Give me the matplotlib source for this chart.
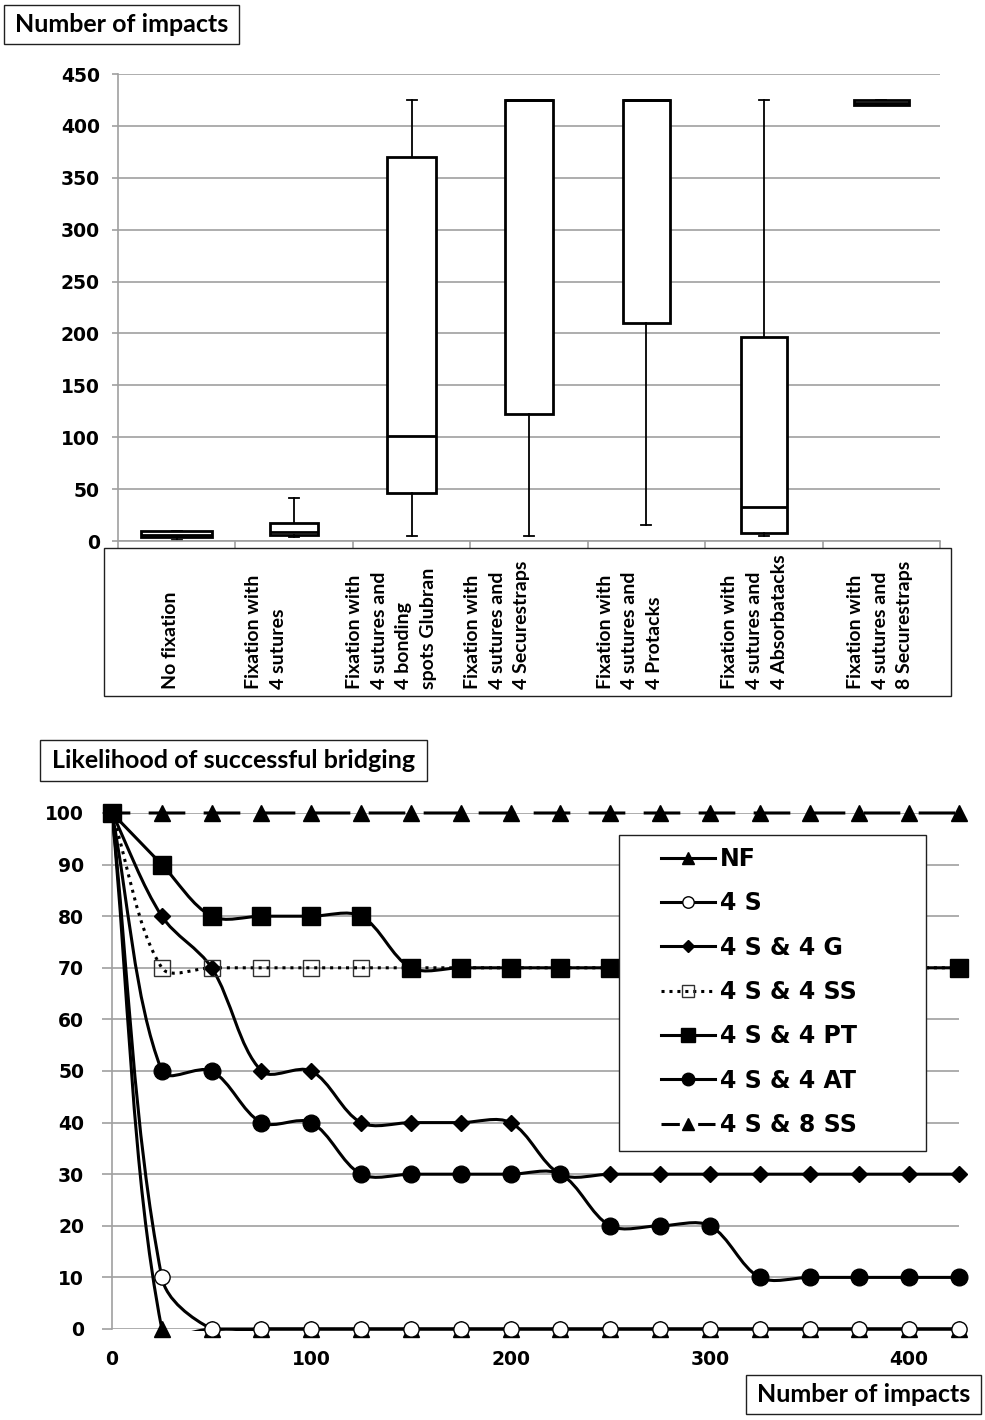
import matplotlib.pyplot as plt
import matplotlib.transforms as mtransforms
import numpy as np
from matplotlib.lines import Line2D
from matplotlib.patches import PathPatch, Rectangle
from matplotlib.path import Path

# ---------------- top chart: number of impacts per fixation ----------------
groups = [
    "No fixation",
    "Fixation with\n4 sutures",
    "Fixation with\n4 sutures and\n4 bonding\nspots Glubran",
    "Fixation with\n4 sutures and\n4 Securestraps",
    "Fixation with\n4 sutures and\n4 Protacks",
    "Fixation with\n4 sutures and\n4 Absorbatacks",
    "Fixation with\n4 sutures and\n8 Securestraps",
]
box_min = [1, 4, 5, 5, 15, 5, 420]
box_q1 = [4, 6, 46, 122, 210, 8, 420]
box_med = [6, 9, 101, 425, 425, 33, 422]
box_q3 = [10, 17, 370, 425, 425, 197, 425]
box_max = [10, 41, 425, 425, 425, 425, 425]
box_ticks = [0, 50, 100, 150, 200, 250, 300, 350, 400, 450]

# ---------------- bottom chart: likelihood of successful bridging ----------------
impacts = [0, 25, 50, 75, 100, 125, 150, 175, 200, 225, 250, 275, 300, 325, 350, 375, 400, 425]
nf = [100, 0, 0, 0, 0, 0, 0, 0, 0, 0, 0, 0, 0, 0, 0, 0, 0, 0]
s4 = [100, 10, 0, 0, 0, 0, 0, 0, 0, 0, 0, 0, 0, 0, 0, 0, 0, 0]
s4_g4 = [100, 80, 70, 50, 50, 40, 40, 40, 40, 30, 30, 30, 30, 30, 30, 30, 30, 30]
s4_ss4 = [100, 70, 70, 70, 70, 70, 70, 70, 70, 70, 70, 70, 70, 70, 70, 70, 70, 70]
s4_pt4 = [100, 90, 80, 80, 80, 80, 70, 70, 70, 70, 70, 70, 70, 70, 70, 70, 70, 70]
s4_at4 = [100, 50, 50, 40, 40, 30, 30, 30, 30, 30, 20, 20, 20, 10, 10, 10, 10, 10]
s4_ss8 = [100] * 18
line_yticks = [0, 10, 20, 30, 40, 50, 60, 70, 80, 90, 100]
line_xticks = [0, 100, 200, 300, 400]

W, H = 985, 1420
GRID = "#a0a0a0"
TICK_FONT = dict(family="DejaVu Sans", weight="bold", size=13.5)
BOX_FONT = dict(family="Lato", weight="bold")

fig = plt.figure(figsize=(W / 100, H / 100), dpi=100)


def px_rect(x0, y0, x1, y1):
    # rectangle given in pixel coords of the figure (origin top-left)
    return [x0 / W, 1 - y1 / H, (x1 - x0) / W, (y1 - y0) / H]


def frame_box(x0, y0, x1, y1, lw=1.0, zorder=1):
    r = px_rect(x0, y0, x1, y1)
    fig.add_artist(Rectangle((r[0], r[1]), r[2], r[3], transform=fig.transFigure,
                             facecolor="none", edgecolor="#202020", linewidth=lw,
                             zorder=zorder))


def title_box(x0, y0, x1, y1, text, size):
    frame_box(x0, y0, x1, y1)
    fig.text((x0 + x1) / 2 / W, 1 - (y0 + y1) / 2 / H, text, ha="center", va="center",
             fontsize=size, **BOX_FONT)


# ============ top axes ============
ax1 = fig.add_axes(px_rect(118, 74, 940, 541))
n = len(groups)
stats = []
for i in range(n):
    stats.append(dict(med=box_med[i], q1=box_q1[i], q3=box_q3[i],
                      whislo=box_min[i], whishi=box_max[i], fliers=[]))
widths = [0.6, 0.41, 0.42, 0.41, 0.4, 0.39, 0.47]
ax1.bxp(stats, positions=range(n), widths=widths, capwidths=0.085,
        patch_artist=True, showfliers=False, manage_ticks=False,
        boxprops=dict(facecolor="white", edgecolor="black", linewidth=2),
        medianprops=dict(color="black", linewidth=2),
        whiskerprops=dict(color="black", linewidth=1.3),
        capprops=dict(color="black", linewidth=1.3))
ax1.set_xlim(-0.5, n - 0.5)
ax1.set_ylim(0, 450)
ax1.set_yticks(box_ticks)
ax1.set_yticklabels([str(t) for t in box_ticks], **TICK_FONT)
ax1.set_xticks(np.arange(n + 1) - 0.5)
ax1.set_xticklabels([])
ax1.tick_params(axis="y", length=4, color=GRID, width=1.2, pad=9)
ax1.tick_params(axis="x", length=5, color=GRID, width=1.2, direction="out")
ax1.grid(axis="y", color=GRID, linewidth=1.2)
ax1.set_axisbelow(True)
for side in ["top", "right"]:
    ax1.spines[side].set_visible(False)
for side in ["left", "bottom"]:
    ax1.spines[side].set_color(GRID)
    ax1.spines[side].set_linewidth(1.2)

# category labels in their own frame below the axis
frame_box(104, 548, 951, 696)
label_shift = [-0.05, -0.24, -0.17, -0.27, -0.14, -0.08, -0.01]
trans = mtransforms.blended_transform_factory(ax1.transData, fig.transFigure)
for i, g in enumerate(groups):
    ax1.text(i + label_shift[i], 1 - 689 / H, g, transform=trans, rotation=90,
             ha="center", va="bottom", multialignment="left", linespacing=1.55,
             fontsize=14, **BOX_FONT)

title_box(4, 5, 239, 44, "Number of impacts", 18)

# ============ bottom axes ============
ax2 = fig.add_axes(px_rect(112, 813, 959, 1329))
ax2.set_xlim(0, 425)
ax2.set_ylim(0, 100)
ax2.set_yticks(line_yticks)
ax2.set_yticklabels([str(t) for t in line_yticks], **TICK_FONT)
ax2.set_xticks(line_xticks)
ax2.set_xticklabels([str(t) for t in line_xticks], **TICK_FONT)
ax2.tick_params(axis="y", length=7, color=GRID, width=1.2, pad=13)
ax2.tick_params(axis="x", length=0, pad=15)
ax2.grid(axis="y", color=GRID, linewidth=1.2)
ax2.set_axisbelow(True)
for side in ["top", "right", "bottom"]:
    ax2.spines[side].set_visible(False)
ax2.spines["left"].set_color(GRID)
ax2.spines["left"].set_linewidth(1.2)


def smooth_path(ax, xs, ys):
    # Excel-like smoothed line: bezier segments with tangents weighted by segment length
    pts = ax.transData.transform(np.column_stack([xs, ys]))
    m = len(pts)
    d = np.hypot(*np.diff(pts, axis=0).T)
    out_cp, in_cp = [], []
    for i in range(m):
        prev = pts[max(i - 1, 0)]
        nxt = pts[min(i + 1, m - 1)]
        t = nxt - prev
        dp = d[i - 1] if i > 0 else 0.0
        dn = d[i] if i < m - 1 else 0.0
        tot = dp + dn if dp + dn > 0 else 1.0
        out_cp.append(pts[i] + t * dn / tot / 3)
        in_cp.append(pts[i] - t * dp / tot / 3)
    verts = [pts[0]]
    codes = [Path.MOVETO]
    for i in range(m - 1):
        verts += [out_cp[i], in_cp[i + 1], pts[i + 1]]
        codes += [Path.CURVE4] * 3
    verts = ax.transData.inverted().transform(np.array(verts))
    return Path(verts, codes)


series = [
    ("NF", nf, dict(ls="-"), dict(marker="^", ms=11, mfc="black", mec="black")),
    ("4 S", s4, dict(ls="-"), dict(marker="o", ms=11, mfc="white", mec="black", mew=1)),
    ("4 S & 4 G", s4_g4, dict(ls="-"), dict(marker="D", ms=8, mfc="black", mec="black")),
    ("4 S & 4 SS", s4_ss4, dict(ls=(0, (1, 1.6))),
     dict(marker="s", ms=12, mfc="none", mec="#303030", mew=1)),
    ("4 S & 4 PT", s4_pt4, dict(ls="-"), dict(marker="s", ms=13, mfc="black", mec="black")),
    ("4 S & 4 AT", s4_at4, dict(ls="-"), dict(marker="o", ms=12, mfc="black", mec="black")),
    ("4 S & 8 SS", s4_ss8, dict(ls=(6, (12, 6))), dict(marker="^", ms=11, mfc="black", mec="black")),
]
draw_order = ["NF", "4 S", "4 S & 4 G", "4 S & 4 SS", "4 S & 8 SS", "4 S & 4 AT", "4 S & 4 PT"]

# the curves must not dip below the zero line
floor_clip = Rectangle((0, -0.3), 425, 120, transform=ax2.transData)

for name, vals, lsty, mk in series:
    z = 3 + draw_order.index(name)
    patch = PathPatch(smooth_path(ax2, impacts, vals), fill=False, edgecolor="black",
                      linewidth=2.2, linestyle=lsty["ls"], capstyle="butt", zorder=z)
    ax2.add_patch(patch)
    patch.set_clip_path(floor_clip)
    ax2.plot(impacts, vals, linestyle="none", zorder=z + 0.5, clip_on=False, **mk)

# legend (white box on top of the curves)
r = px_rect(619, 835, 926, 1151)
ax2.add_artist(Rectangle((r[0], r[1]), r[2], r[3], transform=fig.transFigure,
                         facecolor="white", edgecolor="#202020", linewidth=1.0,
                         zorder=20, clip_on=False))
handles = []
labels = []
for name, vals, lsty, mk in series:
    mk_small = dict(mk)
    mk_small["ms"] = mk["ms"] * 0.75
    handles.append(Line2D([], [], color="black", linewidth=2.2, linestyle=lsty["ls"], **mk_small))
    labels.append(name)
leg = ax2.legend(handles, labels, loc="upper left",
                 bbox_to_anchor=(661 / W, 1 - 847 / H), bbox_transform=fig.transFigure,
                 frameon=False, borderpad=0, borderaxespad=0, handlelength=2.3,
                 handletextpad=0.2, labelspacing=0.86,
                 prop=dict(family="DejaVu Sans", weight="bold", size=17))
leg.set_zorder(21)

title_box(40, 740, 427, 781, "Likelihood of successful bridging", 18)
title_box(746, 1375, 981, 1414, "Number of impacts", 18)

fig.savefig("out.png", dpi=100, facecolor="white")
